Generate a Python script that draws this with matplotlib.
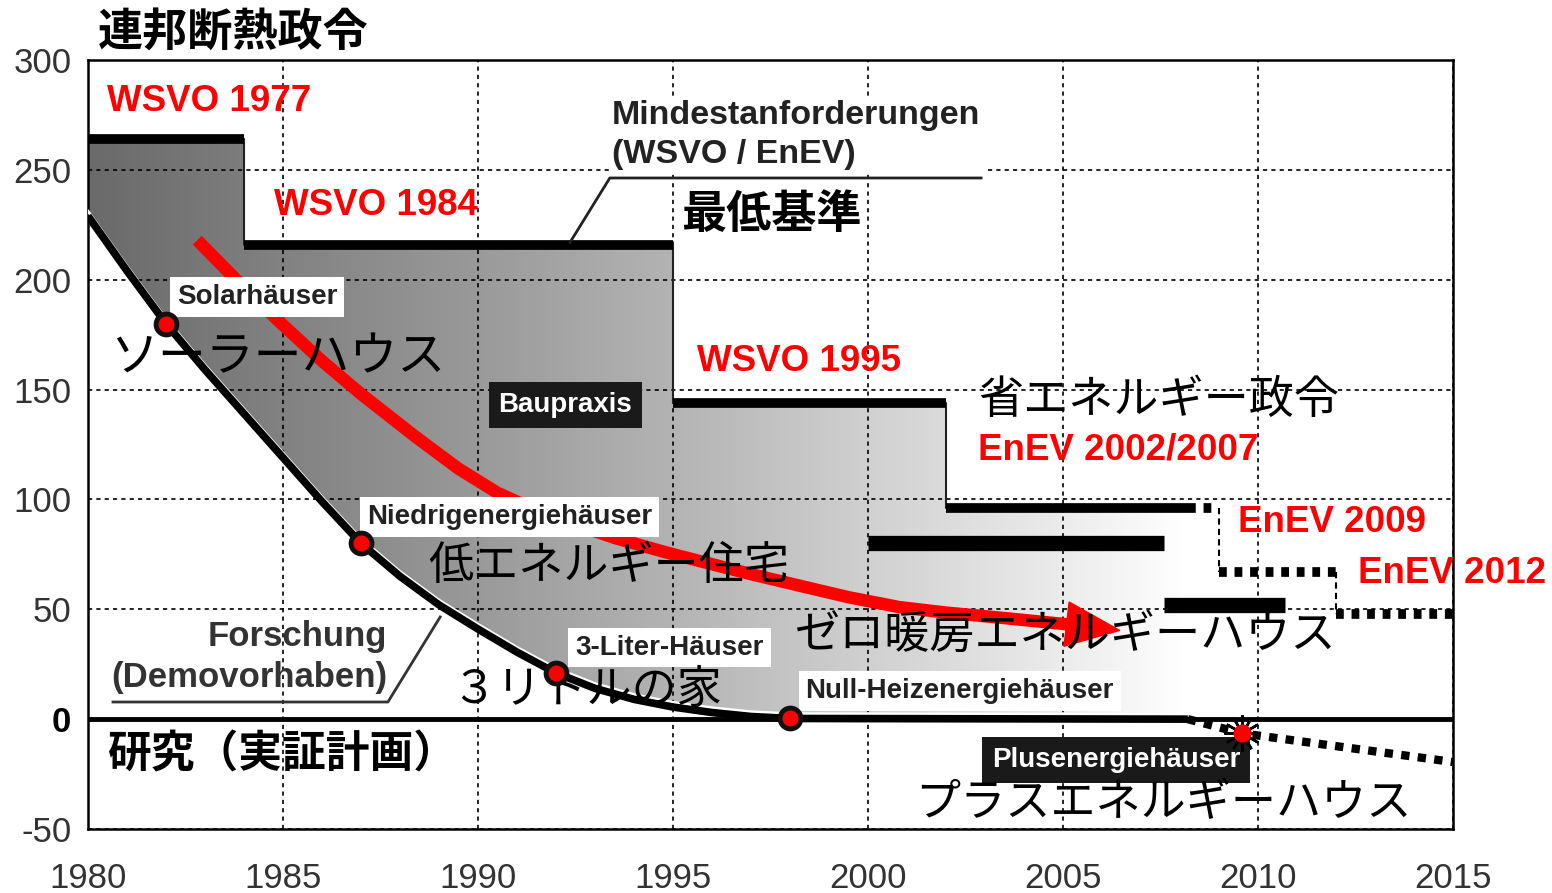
import numpy as np
import matplotlib
matplotlib.use("Agg")
import matplotlib.pyplot as plt
from matplotlib.colors import LinearSegmentedColormap
from matplotlib.patches import Polygon

# minimum requirements (WSVO / EnEV): step edges and levels
std_years = [1980, 1984, 1995, 2002, 2008.2]
std_values = [264, 216, 144, 96]

# later EnEV steps (dotted)
enev_years = [2008.2, 2009, 2012, 2015]
enev_values = [96, 67, 48]

# building practice bars
praxis_start = [2000, 2007.6]
praxis_end = [2007.6, 2010.7]
praxis_values = [80, 52]

# research / demonstration projects
research_years = [1980, 1981, 1982, 1983, 1984, 1985, 1986, 1987, 1988, 1989,
                  1990, 1991, 1992, 1993, 1994, 1995, 1996, 1997, 1998, 2008.2]
research_values = [229, 204, 180, 159, 139, 119, 99, 80, 65, 52,
                   41, 30.5, 21, 14, 9, 5.5, 3, 1.2, 0.3, 0]

# plus-energy continuation
plus_years = [2008.2, 2009.6, 2012.3, 2015]
plus_values = [0, -6.5, -13, -19.5]

# milestone houses on the research curve
milestone_years = [1982, 1987, 1992, 1998]
milestone_values = [180, 80, 21, 0.5]

# trend arrow
trend_years = [1982.8, 1983.8, 1984.9, 1986, 1987, 1988.4, 1989.5, 1990.5, 1991.5,
               1992.5, 1993.5, 1994.8, 1996, 1997, 1998.3, 1999.5, 2000.8, 2002,
               2003.5, 2005.2]
trend_values = [218, 200, 181, 163, 148, 128.5, 114, 103, 95,
                88.5, 82.5, 76, 70.5, 66, 60.5, 55.5, 51, 48.5,
                46, 43]
trend_tip = (2006.45, 40.4)

x_ticks = list(range(1980, 2016, 5))
y_ticks = list(range(-50, 301, 50))

GER = ["Liberation Sans", "DejaVu Sans"]
JP = ["Noto Sans CJK JP", "DejaVu Sans"]
RED = "#ff0000"

plt.rcParams["font.family"] = GER

fig = plt.figure(figsize=(15.52, 8.93), dpi=100)
ax = fig.add_axes([88 / 1552, 64 / 893, 1365 / 1552, 769 / 893])

# gradient area between minimum requirement and research curve
upper_x = np.repeat(std_years, 2)[1:-1]
upper_y = np.repeat(std_values, 2)
poly_xy = np.column_stack([
    np.r_[upper_x, research_years[::-1]],
    np.r_[upper_y, research_values[::-1]],
])
poly = Polygon(poly_xy, closed=True, fc="none", ec="none")
ax.add_patch(poly)
cmap = LinearSegmentedColormap.from_list("fade", [
    (0.0, "#6a6a6a"), (0.35, "#999999"), (0.53, "#b3b3b3"),
    (0.71, "#d0d0d0"), (0.89, "#ececec"), (1.0, "#ffffff")])
grad = np.linspace(0, 1, 256).reshape(1, -1)
im = ax.imshow(grad, extent=[std_years[0], std_years[-1], -50, 300],
               aspect="auto", cmap=cmap, origin="lower", zorder=1)
im.set_clip_path(poly)
ax.plot(upper_x, upper_y, color="#222222", lw=1.5, zorder=2)

# grid
ax.set_xlim(1980, 2015)
ax.set_ylim(-50, 300)
ax.grid(True, color="black", lw=1.2, linestyle=(0, (2.5, 2.5)))

# minimum requirement steps
for x0, x1, v in zip(std_years[:-1], std_years[1:], std_values):
    ax.plot([x0, x1], [v, v], color="black", lw=7, solid_capstyle="butt", zorder=3)

# later EnEV steps, dotted with dashed connectors
for i, (x0, x1, v) in enumerate(zip(enev_years[:-1], enev_years[1:], enev_values)):
    ax.plot([x0, x1], [v, v], color="black", lw=7, linestyle=(0, (0.8, 0.8)),
            dash_capstyle="butt", zorder=3)
    if i > 0:
        ax.plot([x0, x0], [enev_values[i - 1], v], color="black", lw=1.5,
                linestyle=(0, (3, 2)), zorder=3)

# building practice bars
for x0, x1, v in zip(praxis_start, praxis_end, praxis_values):
    ax.plot([x0, x1], [v, v], color="black", lw=11, solid_capstyle="butt", zorder=3)

# zero line and research curve (thin white edge on the filled side)
ax.axhline(0, color="black", lw=3.5, zorder=3)
ax.plot(research_years, np.array(research_values) + 2.2, color="white", lw=2,
        solid_joinstyle="round", zorder=3.5)
ax.plot(research_years, research_values, color="black", lw=5.5,
        solid_joinstyle="round", solid_capstyle="butt", zorder=4)
ax.plot(plus_years, plus_values, color="black", lw=6, linestyle=(0, (1, 1)),
        dash_capstyle="butt", zorder=4)

# red trend arrow
ax.plot(trend_years, trend_values, color=RED, lw=9, solid_capstyle="butt",
        solid_joinstyle="round", zorder=4)
ax.annotate("", xy=trend_tip, xytext=(trend_years[-1], trend_values[-1]),
            arrowprops=dict(arrowstyle="simple,head_length=1.2,head_width=1.0,tail_width=0.3",
                            color=RED, mutation_scale=32, shrinkA=0, shrinkB=0),
            zorder=4)

# annotation leader lines
ax.plot([1992.36, 1993.38, 2002.9], [217, 246.3, 246.3], color="#222222", lw=2, zorder=4)
ax.plot([1980.64, 1987.69, 1989.03], [7.8, 7.8, 46.5], color="#333333", lw=2, zorder=4)

# milestone dots
ax.plot(milestone_years, milestone_values, "o", ms=15, mfc=RED, mec="#111111",
        mew=3.5, zorder=7)
ax.plot(plus_years[1], plus_values[1], marker=(12, 2, 0), ms=26, color="black",
        mew=1.8, zorder=7, linestyle="none")
ax.plot(plus_years[1], plus_values[1], "o", ms=13, mfc=RED, mec="none", zorder=8)

# red regulation labels
red_kw = dict(color=RED, fontsize=26.5, fontweight="bold", family=GER,
              va="center", ha="left", zorder=6)
ax.text(1980.49, 280.9, "WSVO 1977", **red_kw)
ax.text(1984.77, 234, "WSVO 1984", **red_kw)
ax.text(1995.62, 162.6, "WSVO 1995", **red_kw)
ax.text(2002.82, 122.5, "EnEV 2002/2007", **red_kw)
ax.text(2009.49, 89.3, "EnEV 2009", **red_kw)
ax.text(2012.56, 66.5, "EnEV 2012", clip_on=False, **red_kw)

# boxed German labels
white_box = dict(boxstyle="square,pad=0.25", fc="white", ec="none")
black_box = dict(boxstyle="square,pad=0.35", fc="#1a1a1a", ec="none")
box_kw = dict(fontsize=20, fontweight="bold", family=GER, ha="center", va="center", zorder=6)
ax.text(1984.33, 192.1, "Solarhäuser", color="#222222", bbox=white_box, **box_kw)
ax.text(1990.82, 92.2, "Niedrigenergiehäuser", color="#222222", bbox=white_box, **box_kw)
ax.text(1994.91, 32.6, "3-Liter-Häuser", color="#222222", bbox=white_box, **box_kw)
ax.text(2002.35, 12.8, "Null-Heizenergiehäuser", color="#222222", bbox=white_box, **box_kw)
ax.text(1992.24, 143.0, "Baupraxis", color="white", bbox=black_box, **box_kw)
ax.text(2006.36, -18.6, "Plusenergiehäuser", color="white", bbox=black_box, **box_kw)

ax.text(1993.44, 265.9, "Mindestanforderungen\n(WSVO / EnEV)", color="#222222",
        fontsize=24.5, fontweight="bold", family=GER, ha="left", va="center",
        linespacing=1.3, zorder=5,
        bbox=dict(boxstyle="square,pad=0.1", fc="white", ec="none"))
ax.text(1987.67, 28.3, "Forschung\n(Demovorhaben)", color="#333333", fontsize=25,
        fontweight="bold", family=GER, ha="right", va="center", linespacing=1.3,
        multialignment="right", zorder=5)

# Japanese labels
jp_kw = dict(color="black", fontsize=32.5, family=JP, ha="left", va="center", zorder=6)
ax.text(1995.2, 229.5, "最低基準", fontweight="bold", **jp_kw)
ax.text(1980.56, 164.4, "ソーラーハウス", **{**jp_kw, "fontsize": 34.5})
ax.text(2002.82, 145.3, "省エネルギー政令", **jp_kw)
ax.text(1988.72, 69.7, "低エネルギー住宅", **jp_kw)
ax.text(1998.13, 38.3, "ゼロ暖房エネルギーハウス", **jp_kw)
ax.text(1989.3, 13.3, "３リトルの家", **jp_kw)
ax.text(1980.49, -16.3, "研究（実証計画）", fontweight="bold",
        **{**jp_kw, "fontsize": 31.5})
ax.text(2001.2, -38.2, "プラスエネルギーハウス", **jp_kw)
fig.text(98 / 1552, 1 - 33 / 893, "連邦断熱政令", color="black", fontsize=32.5,
         fontweight="bold", family=JP, ha="left", va="center")

# axes styling
ax.set_xticks(x_ticks, labels=[str(v) for v in x_ticks])
ax.set_yticks(y_ticks, labels=[str(v) for v in y_ticks])
ax.tick_params(length=0, labelsize=25, labelcolor="#333333")
ax.tick_params(axis="x", pad=24)
ax.tick_params(axis="y", pad=12)
for lbl in ax.get_yticklabels():
    if lbl.get_text() == "0":
        lbl.set_fontweight("bold")
        lbl.set_color("black")
for sp in ax.spines.values():
    sp.set_linewidth(1.8)
    sp.set_color("black")

fig.savefig("out.png", dpi=100)
